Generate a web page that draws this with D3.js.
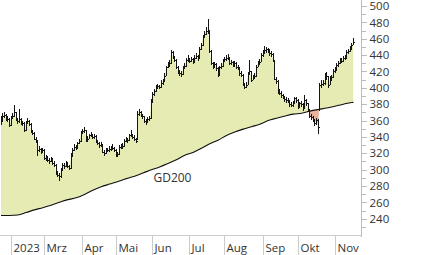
<!DOCTYPE html>
<html>
<head>
<meta charset="utf-8">
<script src="https://cdn.jsdelivr.net/npm/d3@7"></script>
<style>
  body { margin: 0; background: #fff; }
  svg { display: block; }
  text { font-family: "Open Sans", sans-serif; font-size: 11.5px; fill: #333; }
</style>
</head>
<body>
<svg id="chart" width="426" height="255"></svg>
<script>
// daily bars, trading day index 0..211 (late Jan to mid Nov 2023)
let closes = [359,366,367,363,362,354,364,366,370,361,359,362,358,357,348,358,360,356,347,345,
  338,335,324,325,322,324,314,316,312,310,313,308,306,296,294,292,300,306,304,308,
  305,302,318,324,328,327,332,335,345,347,349,336,338,342,343,340,341,334,333,330,
  331,322,320,323,324,325,326,327,324,318,319,328,327,329,335,337,336,342,343,340,
  338,335,368,371,366,365,360,358,362,363,383,392,396,400,402,401,406,408,415,425,
  428,430,444,438,434,426,420,418,417,425,427,434,436,433,435,432,437,439,436,448,
  452,463,466,469,470,445,430,426,429,424,416,425,427,433,435,436,437,430,431,428,
  430,426,425,418,416,405,401,404,417,420,410,413,414,426,430,432,440,442,446,447,
  445,442,441,434,411,408,396,394,391,389,386,385,384,380,379,381,387,385,377,381,
  380,375,385,381,373,366,364,361,357,361,352,403,405,406,412,414,404,412,413,420,
  422,428,430,434,433,436,437,444,445,448,452,456];
let highs = [366,369,370,368,365,363,366,369,379,371,363,374,363,360,358,360,363,361,357,349,
  346,340,336,329,327,327,325,318,317,314,316,314,310,307,298,296,302,308,308,310,
  309,306,320,327,331,330,334,338,347,350,352,348,341,344,346,344,344,342,336,334,
  334,331,324,326,327,329,329,331,328,325,322,330,331,332,337,340,339,344,348,344,
  342,339,372,374,372,368,366,362,364,366,386,395,399,403,405,404,409,411,418,427,
  431,434,446,445,439,435,427,422,421,427,430,436,440,437,438,436,440,442,440,450,
  455,465,469,474,484,471,446,432,432,430,425,427,430,435,438,440,441,438,434,433,
  433,431,428,426,420,417,406,407,419,434,421,416,418,428,433,435,443,446,451,450,
  449,447,445,442,434,413,409,398,396,393,390,389,387,385,383,384,389,389,386,383,
  384,381,391,386,382,374,368,366,362,363,362,406,409,410,418,419,415,414,416,423,
  425,430,433,436,437,439,440,446,448,451,455,461];
let lows = [355,358,363,360,358,352,353,362,364,359,356,357,355,353,346,347,356,353,345,342,
  336,332,317,321,319,320,312,311,309,307,309,306,303,294,291,286,290,299,301,303,
  302,299,301,316,323,324,326,331,334,343,345,334,334,337,340,337,338,332,330,327,
  328,320,317,319,321,322,323,324,321,316,315,318,325,326,328,334,333,335,340,337,
  335,332,336,366,364,362,357,355,357,360,362,381,390,395,398,398,400,404,407,414,
  424,426,429,435,431,423,417,415,413,416,423,426,432,430,431,429,431,435,433,435,
  446,451,461,464,466,443,428,423,425,421,413,415,423,426,431,433,434,428,428,425,
  426,423,422,415,413,402,398,400,403,416,407,409,411,413,425,428,431,438,441,443,
  442,439,438,431,409,405,393,391,388,386,383,382,381,377,376,377,380,382,374,376,
  377,372,374,378,370,363,361,358,353,355,344,372,400,402,404,409,400,403,408,412,
  418,421,426,429,430,432,434,436,441,444,447,452];

// GD200, read about once a week
let gdIdx = [0,5,10,15,20,25,30,35,40,45,50,55,60,65,70,75,80,85,90,95,100,105,
  110,115,120,125,130,135,140,145,150,155,160,165,170,175,180,185,190,195,200,205,210,211];
let gdVal = [244,244,244.5,247.5,250.8,253.5,256.5,260,263.3,265.5,269.5,274.8,279,282.3,
  285.5,289,292,295.8,299.8,303.3,307.5,312,317.5,321,326,331.5,336,341.8,346,349.5,352.5,
  355.5,360,362.8,365.5,367.8,369,371.5,373.5,375.3,377.5,380,382,382.2];

let monthIdx = [6,26,49,69,91,113,134,157,178,200];
let monthLabels = ['2023','Mrz','Apr','Mai','Jun','Jul','Aug','Sep','Okt','Nov'];
let majorTicks = [240,260,280,300,320,340,360,380,400,420,440,460,480,500];
let minorTicks = [230,250,270,290,310,330,350,370,390,410,430,450,470,490];

let svg = d3.select('#chart');
let axisX = 361, bottomY = 235;

let x = d3.scaleLinear().domain([0, 211]).range([1, 353.4]);
let y = d3.scaleLinear().domain([240, 500]).range([218.7, 6]);

let days = d3.range(closes.length);
let gd = gdIdx.map((d, k) => [d, gdVal[k]]);

// clip regions above / below the GD200
let defs = svg.append('defs');
defs.append('clipPath').attr('id', 'aboveGD')
  .append('path')
  .attr('d', d3.area().curve(d3.curveMonotoneX)
    .x(d => x(d[0])).y0(0).y1(d => y(d[1]))(gd));
defs.append('clipPath').attr('id', 'belowGD')
  .append('path')
  .attr('d', d3.area().curve(d3.curveMonotoneX)
    .x(d => x(d[0])).y0(d => y(d[1])).y1(bottomY)(gd));

// green where price is above, red where below
svg.append('path')
  .attr('d', d3.area().x(i => x(i)).y0(bottomY).y1(i => y(closes[i]))(days))
  .attr('fill', '#e5ebb3')
  .attr('clip-path', 'url(#aboveGD)');
svg.append('path')
  .attr('d', d3.area().x(i => x(i)).y0(0).y1(i => y(closes[i]))(days))
  .attr('fill', '#e8b29f')
  .attr('clip-path', 'url(#belowGD)');

// GD200 line
svg.append('path')
  .attr('d', d3.line().curve(d3.curveMonotoneX).x(d => x(d[0])).y(d => y(d[1]))(gd))
  .attr('fill', 'none')
  .attr('stroke', '#111')
  .attr('stroke-width', 1.1);

svg.append('text')
  .attr('x', x(91) + 0.5)
  .attr('y', y(gdVal[18]) + 12)
  .style('font-size', '12px')
  .text('GD200');

// OHLC bars
let bars = svg.append('g')
  .attr('stroke', '#151515')
  .attr('stroke-width', 1)
  .attr('shape-rendering', 'crispEdges');
bars.selectAll('line.hl')
  .data(days)
  .join('line')
  .attr('class', 'hl')
  .attr('x1', i => Math.floor(x(i)) + 0.5)
  .attr('x2', i => Math.floor(x(i)) + 0.5)
  .attr('y1', i => y(highs[i]))
  .attr('y2', i => y(lows[i]));
bars.selectAll('line.cl')
  .data(days)
  .join('line')
  .attr('class', 'cl')
  .attr('x1', i => Math.floor(x(i)) + 1)
  .attr('x2', i => Math.floor(x(i)) + 2)
  .attr('y1', i => Math.round(y(closes[i])) + 0.5)
  .attr('y2', i => Math.round(y(closes[i])) + 0.5);

// right value axis
let yAxis = svg.append('g')
  .attr('transform', `translate(${axisX + 0.5},0)`)
  .call(d3.axisRight(y).tickValues(majorTicks).tickSize(5).tickPadding(3));
let yMinor = svg.append('g')
  .attr('transform', `translate(${axisX + 0.5},0)`)
  .call(d3.axisRight(y).tickValues(minorTicks).tickSize(4).tickFormat(''));
[yAxis, yMinor].forEach(g => {
  g.select('.domain').remove();
  g.selectAll('.tick line').attr('stroke', '#bbb').attr('shape-rendering', 'crispEdges');
});
yAxis.selectAll('.tick text').attr('fill', '#333')
  .style('font-family', '"Open Sans", sans-serif').style('font-size', '11.5px');

svg.append('line')
  .attr('x1', axisX + 0.5).attr('x2', axisX + 0.5)
  .attr('y1', 0).attr('y2', bottomY + 2)
  .attr('stroke', '#bbb').attr('shape-rendering', 'crispEdges');

// bottom month axis
svg.append('line')
  .attr('x1', 0).attr('x2', axisX)
  .attr('y1', bottomY + 0.5).attr('y2', bottomY + 0.5)
  .attr('stroke', '#ccc').attr('shape-rendering', 'crispEdges');

let months = svg.append('g').selectAll('g')
  .data(monthIdx)
  .join('g')
  .attr('transform', i => `translate(${Math.floor(x(i)) + 0.5},0)`);
months.append('line')
  .attr('y1', bottomY).attr('y2', 255)
  .attr('stroke', '#ccc').attr('shape-rendering', 'crispEdges');
months.append('text')
  .attr('x', 2)
  .attr('y', 251.5)
  .text((d, k) => monthLabels[k]);
</script>
</body>
</html>
